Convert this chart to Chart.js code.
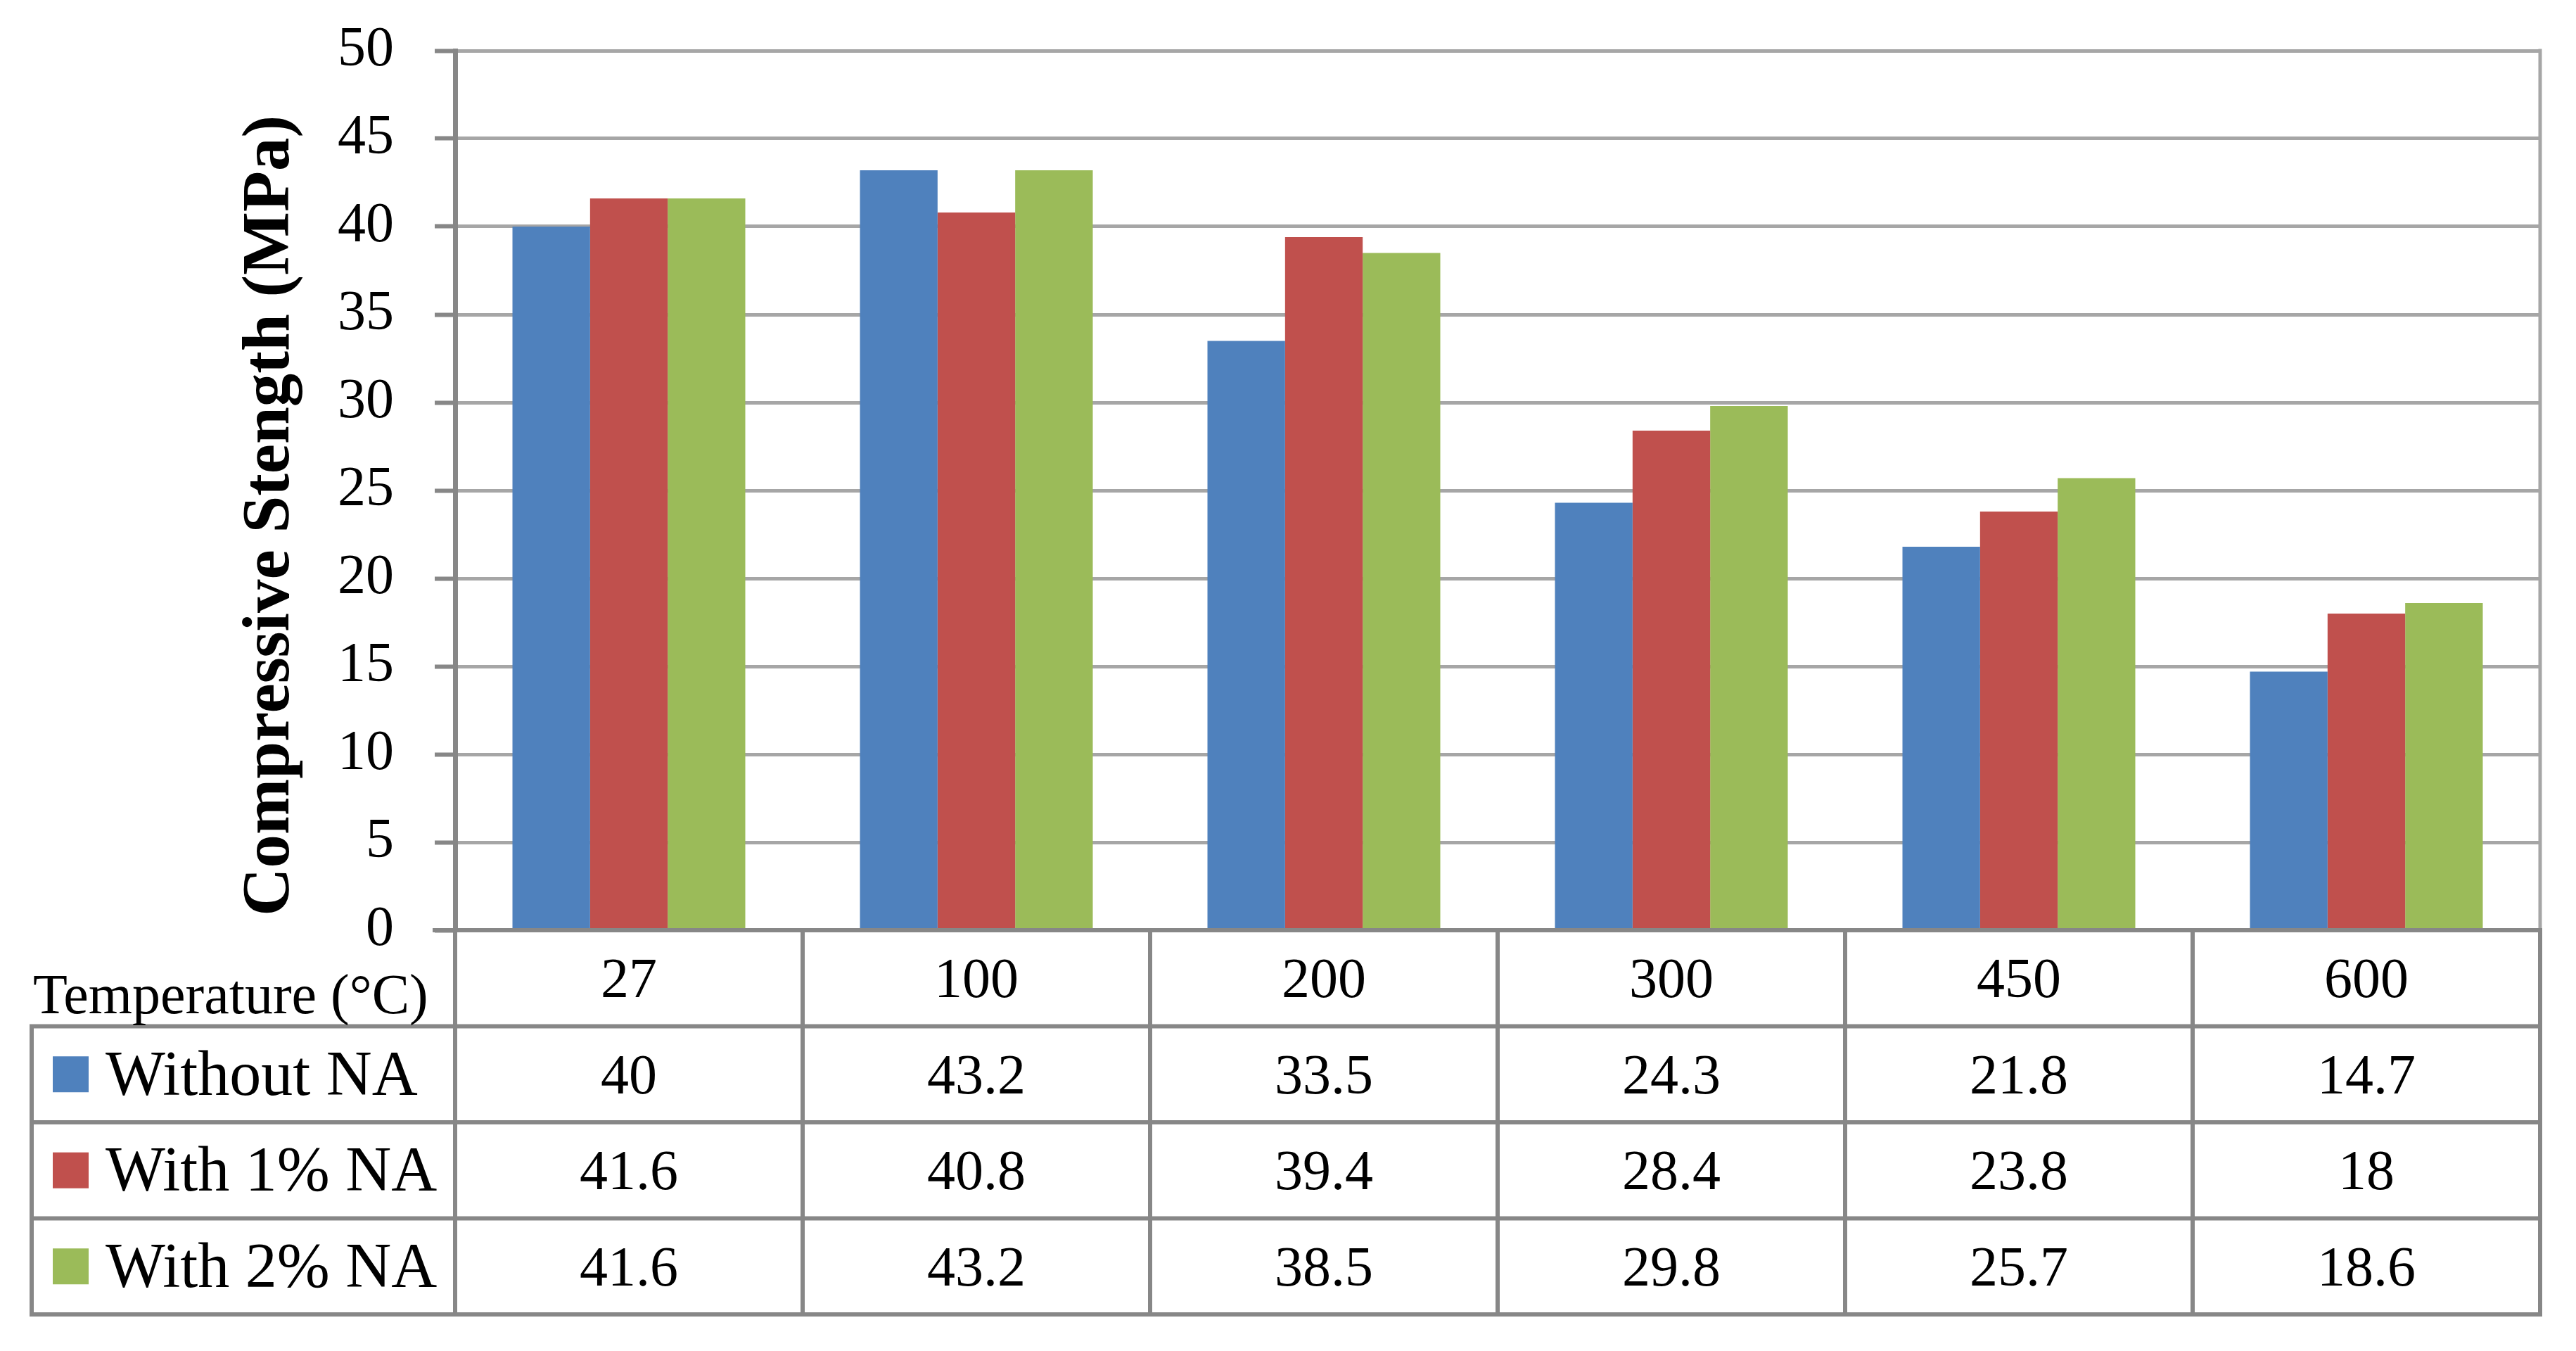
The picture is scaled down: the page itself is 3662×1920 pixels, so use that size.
<!DOCTYPE html>
<html><head><meta charset="utf-8">
<script src="https://cdn.jsdelivr.net/npm/chart.js@4/dist/chart.umd.min.js"></script>
<style>html,body{margin:0;padding:0;background:#fff;} canvas{display:block;}</style>
</head><body>
<canvas id="c" width="3662" height="1920"></canvas>
<script>
// ---- data ----
const categories = ['27', '100', '200', '300', '450', '600'];
const seriesNames = ['Without NA', 'With 1% NA', 'With 2% NA'];
const withoutNA = [40, 43.2, 33.5, 24.3, 21.8, 14.7];
const with1NA   = [41.6, 40.8, 39.4, 28.4, 23.8, 18];
const with2NA   = [41.6, 43.2, 38.5, 29.8, 25.7, 18.6];
const seriesColors = ['#4F81BD', '#C0504D', '#9BBB59'];
const yMin = 0, yMax = 50, yStep = 5;
const yTitle = 'Compressive Stength (MPa)';
const xTitle = 'Temperature (°C)';

// ---- layout / style ----
const FONT = '"Liberation Serif", "Times New Roman", serif';
const W = 3662, H = 1920;
const PLOT_LEFT = 647, PLOT_TOP = 72, PLOT_RIGHT = 3611, PLOT_BOTTOM = 1322;
const ROW_H = 136.5;
const TABLE_LEFT = 45;
const TICK_LEN = 29;
const DARK = '#878787', GRID = '#A6A6A6';

const seriesValues = [withoutNA, with1NA, with2NA];

const tablePlugin = {
  id: 'dataTable',
  afterDraw(chart) {
    const ctx = chart.ctx;
    const ca = chart.chartArea;
    const x = chart.scales.x;
    const n = categories.length;
    const colW = x.getPixelForValue(1) - x.getPixelForValue(0);
    const top = ca.bottom;
    const rows = 1 + seriesNames.length;
    const bottom = top + rows * ROW_H;
    ctx.save();
    // right border of plot area
    ctx.strokeStyle = GRID; ctx.lineWidth = 5;
    ctx.beginPath(); ctx.moveTo(ca.right, ca.top - 2.5); ctx.lineTo(ca.right, ca.bottom); ctx.stroke();

    // table lines
    ctx.strokeStyle = DARK; ctx.lineWidth = 6; ctx.lineCap = 'square';
    ctx.beginPath();
    ctx.moveTo(ca.left - TICK_LEN, top); ctx.lineTo(ca.right, top);
    for (let k = 1; k <= rows; k++) {
      const yy = top + k * ROW_H;
      ctx.moveTo(TABLE_LEFT, yy); ctx.lineTo(ca.right, yy);
    }
    ctx.moveTo(TABLE_LEFT, top + ROW_H); ctx.lineTo(TABLE_LEFT, bottom);
    for (let i = 0; i <= n; i++) {
      const xx = (i < n ? x.getPixelForValue(i) - colW / 2 : x.getPixelForValue(n - 1) + colW / 2);
      ctx.moveTo(xx, top); ctx.lineTo(xx, bottom);
    }
    ctx.stroke();

    ctx.fillStyle = '#000';
    ctx.textBaseline = 'alphabetic';
    // header row
    ctx.font = '80px ' + FONT; ctx.textAlign = 'center';
    categories.forEach((c, i) => {
      ctx.fillText(c, x.getPixelForValue(i), top + ROW_H / 2 + 27);
    });
    ctx.font = '80px ' + FONT; ctx.textAlign = 'left';
    ctx.fillText(xTitle, TABLE_LEFT + 2, top + ROW_H - 19);

    // series rows
    seriesNames.forEach((name, s) => {
      const cy = top + (s + 1) * ROW_H + ROW_H / 2;
      ctx.fillStyle = seriesColors[s];
      ctx.fillRect(75, cy - 25.5, 51, 51);
      ctx.fillStyle = '#000';
      ctx.font = '90px ' + FONT; ctx.textAlign = 'left';
      ctx.fillText(name, 150, cy + 29);
      ctx.font = '80px ' + FONT; ctx.textAlign = 'center';
      seriesValues[s].forEach((v, i) => {
        ctx.fillText(String(v), x.getPixelForValue(i), cy + 27);
      });
    });

    // y axis title
    ctx.save();
    ctx.translate(410, 733);
    ctx.rotate(-Math.PI / 2);
    ctx.font = 'bold 95px ' + FONT;
    ctx.textAlign = 'center';
    ctx.textBaseline = 'alphabetic';
    ctx.fillText(yTitle, 0, 0);
    ctx.restore();
    ctx.restore();
  }
};

new Chart(document.getElementById('c'), {
  type: 'bar',
  data: {
    labels: categories,
    datasets: seriesNames.map((name, s) => ({
      label: name,
      data: seriesValues[s],
      backgroundColor: seriesColors[s],
      borderWidth: 0,
      categoryPercentage: 0.67,
      barPercentage: 1.0
    }))
  },
  options: {
    responsive: false,
    animation: false,
    devicePixelRatio: 1,
    layout: { padding: { top: PLOT_TOP, right: W - PLOT_RIGHT, left: 0, bottom: 0 } },
    plugins: { legend: { display: false }, tooltip: { enabled: false }, title: { display: false } },
    scales: {
      x: {
        type: 'category',
        offset: true,
        grid: { display: false },
        border: { display: false },
        ticks: { display: false },
        afterFit(s) { s.height = H - PLOT_BOTTOM; s.paddingLeft = 0; s.paddingRight = 0; }
      },
      y: {
        min: yMin, max: yMax,
        ticks: {
          stepSize: yStep,
          color: '#000',
          font: { family: FONT, size: 80 },
          padding: 58
        },
        grid: {
          color: GRID,
          lineWidth: 5,
          tickColor: DARK,
          tickWidth: 6,
          tickLength: TICK_LEN,
          drawTicks: true
        },
        border: { color: DARK, width: 7 },
        afterFit(s) { s.width = PLOT_LEFT; s.paddingTop = 0; s.paddingBottom = 0; }
      }
    }
  },
  plugins: [tablePlugin]
});
</script>
</body></html>
